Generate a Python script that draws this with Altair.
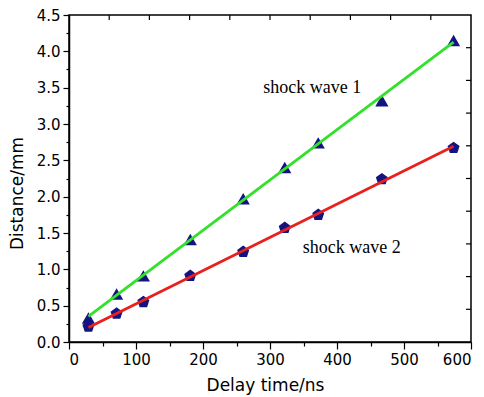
import altair as alt
import pandas as pd

# ---- data ----
delay = [29, 71, 111, 181, 260, 322, 372, 467, 574]
wave1 = [0.33, 0.66, 0.91, 1.41, 1.97, 2.40, 2.74, 3.32, 4.15]
wave2 = [0.21, 0.39, 0.55, 0.91, 1.24, 1.57, 1.75, 2.24, 2.67]
series_names = ["shock wave 1", "shock wave 2"]

ann_text = ["shock wave 1", "shock wave 2"]
ann_x = [290, 349]
ann_y = [3.43, 1.23]

x_major = list(range(0, 601, 50))
y_major = [i * 0.25 for i in range(19)]
x_top = list(range(60, 600, 60))
y_right = [round(i * 0.45, 2) for i in range(1, 10)]

rows = []
for d, a, b in zip(delay, wave1, wave2):
    rows.append({"delay": d, "distance": a, "series": series_names[0]})
    rows.append({"delay": d, "distance": b, "series": series_names[1]})
df = pd.DataFrame(rows)
ann = pd.DataFrame({"t": ann_text, "x": ann_x, "y": ann_y})
top_df = pd.DataFrame({"v": x_top})
right_df = pd.DataFrame({"v": y_right})

xs = alt.Scale(domain=[0, 600], nice=False, zero=False)
ys = alt.Scale(domain=[0, 4.5], nice=False, zero=False)

x_axis = alt.Axis(
    values=x_major, title="Delay time/ns",
    labelExpr="datum.value % 100 === 0 ? datum.label : ''",
    tickSize={"condition": {"test": "datum.value % 100 === 0", "value": 7}, "value": 4},
    labelPadding=3, titleX=196, titleY=48, titleBaseline="alphabetic")
y_axis = alt.Axis(
    values=y_major, title="Distance/mm", format=".1f",
    labelExpr="(round(datum.value*100) % 50 === 0) ? datum.label : ''",
    tickSize={"condition": {"test": "round(datum.value*100) % 50 === 0", "value": 6}, "value": 3},
    labelPadding=3, titleX=-52, titleY=178, titleBaseline="middle")

pentagon = "M0,-1L0.951,-0.309L0.588,0.809L-0.588,0.809L-0.951,-0.309Z"

points = alt.Chart(df).mark_point(filled=True, opacity=1, color="#141480").encode(
    x=alt.X("delay:Q", scale=xs, axis=x_axis),
    y=alt.Y("distance:Q", scale=ys, axis=y_axis),
    shape=alt.Shape("series:N", scale=alt.Scale(domain=series_names, range=["triangle-up", pentagon]), legend=None),
    size=alt.Size("series:N", scale=alt.Scale(domain=series_names, range=[175, 160]), legend=None),
)

lines = alt.Chart(df).transform_regression(
    "delay", "distance", groupby=["series"]
).mark_line(strokeWidth=2.8).encode(
    x=alt.X("delay:Q", scale=xs, axis=x_axis),
    y=alt.Y("distance:Q", scale=ys, axis=y_axis),
    color=alt.Color("series:N", scale=alt.Scale(domain=series_names, range=["#33e02a", "#e8201e"]), legend=None),
)

labels = alt.Chart(ann).mark_text(font="Liberation Serif", fontSize=18, align="left",
                                   baseline="alphabetic", color="black").encode(
    x=alt.X("x:Q", scale=xs, axis=x_axis),
    y=alt.Y("y:Q", scale=ys, axis=y_axis),
    text="t:N",
)

top_ticks = alt.Chart(top_df).mark_rule(color="black", strokeWidth=1.2).encode(
    x=alt.X("v:Q", scale=xs, axis=x_axis),
    y=alt.value(0), y2=alt.value(5),
)
right_ticks = alt.Chart(right_df).mark_rule(color="black", strokeWidth=1.2).encode(
    y=alt.Y("v:Q", scale=ys, axis=y_axis),
    x=alt.value(402), x2=alt.value(397),
)

chart = alt.layer(points, lines, labels, top_ticks, right_ticks).properties(
    width=402, height=327,
    autosize=alt.AutoSizeParams(type="none"),
    padding={"left": 61, "top": 7, "right": 5, "bottom": 55},
).configure_view(stroke="black", strokeWidth=1.5).configure_axis(
    grid=False, domainColor="black", domainWidth=1.5, tickColor="black", tickWidth=1.2,
    labelFont="DejaVu Sans", labelFontSize=15, labelColor="black",
    titleFont="DejaVu Sans", titleFontSize=17, titleFontWeight="normal", titleColor="black",
)

chart.save("out.html", embed_options={"renderer": "svg", "actions": False})
